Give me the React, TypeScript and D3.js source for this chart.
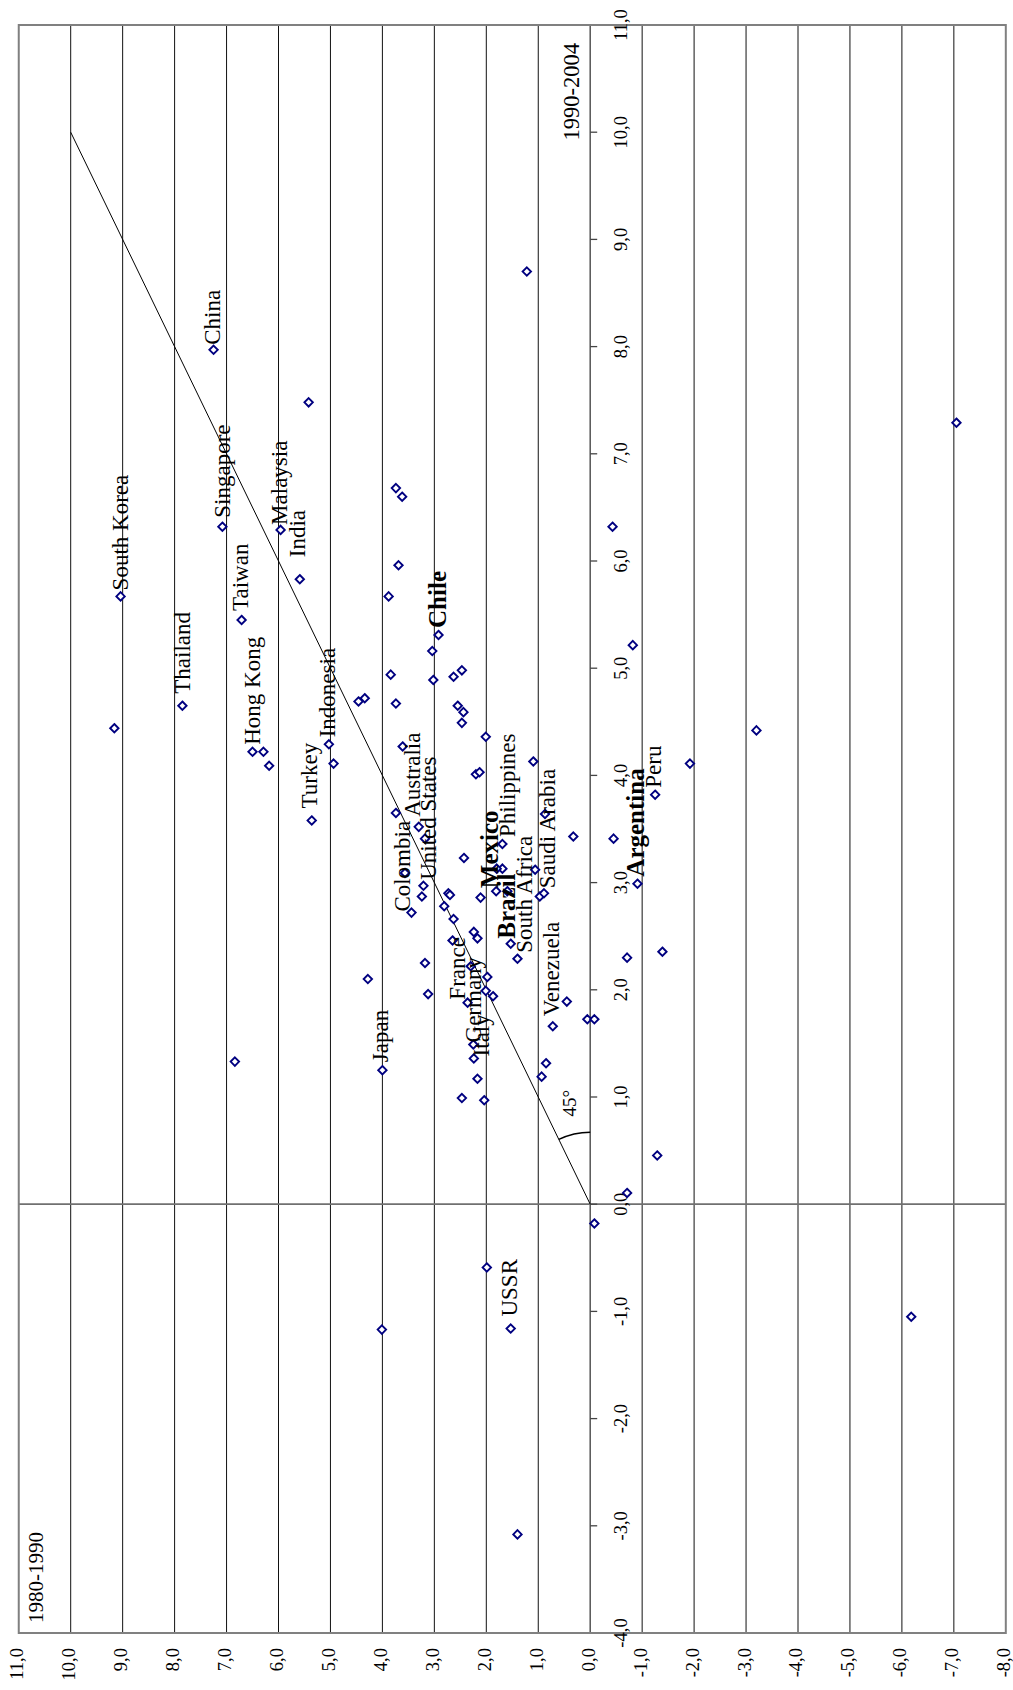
import React from "react";
import * as d3 from "d3";

const W = 1013;
const H = 1690;

// Labelled countries: growth 1980-1990 and 1990-2004 (%)
const labelNames = [
  "China", "Singapore", "Malaysia", "India", "Taiwan", "South Korea", "Thailand",
  "Hong Kong", "Indonesia", "Turkey", "Chile", "Australia", "United States", "Colombia",
  "Philippines", "Mexico", "Brazil", "South Africa", "Saudi Arabia", "Venezuela",
  "France", "Germany", "Italy", "Japan", "Argentina", "Peru", "USSR",
];
const label1980 = [
  7.25, 7.08, 5.96, 5.59, 6.71, 9.04, 7.85,
  6.5, 5.03, 5.36, 2.92, 3.3, 3.21, 3.44,
  1.69, 1.81, 1.53, 1.4, 0.89, 0.72,
  2.36, 2.25, 2.24, 4.0, -0.91, -1.25, 1.53,
];
const label1990 = [
  7.97, 6.32, 6.29, 5.83, 5.45, 5.67, 4.65,
  4.22, 4.29, 3.58, 5.31, 3.52, 2.97, 2.72,
  3.36, 2.92, 2.43, 2.29, 2.9, 1.66,
  1.88, 1.49, 1.36, 1.25, 2.99, 3.82, -1.16,
];
const boldNames = ["Chile", "Mexico", "Brazil", "Argentina"];

// Unlabelled countries
const other1980 = [
  5.42, 3.74, 3.62, 3.69, 3.88, 6.29, 6.18, 4.94, 3.04, 3.84, 3.02, 2.63, 2.47,
  4.46, 4.34, 3.74, 2.55, 2.44, 2.47, 2.01, 3.61, 2.2, 2.13, 3.74, 3.18, 2.43,
  1.095, 0.87, 0.325, 1.69, 1.8, 1.06, 3.565, 3.24, 2.73, 2.7, 2.11, 1.595, 0.97,
  2.81, 2.63, 2.24, 2.17, 2.65, 3.18, 2.3, 1.98, 4.28, 3.12, 2.01, 1.87, 0.45,
  0.055, -0.08, 0.85, 0.935, 2.17, 2.47, 2.04, 6.84, 9.16, 1.22, -0.45, -1.92,
  -3.2, -0.71, -1.39, -1.29, -0.71, -0.08, -0.43, -0.82, -7.05, -6.18, 1.99,
  4.01, 1.4,
];
const other1990 = [
  7.48, 6.68, 6.6, 5.96, 5.67, 4.22, 4.09, 4.11, 5.16, 4.94, 4.89, 4.92, 4.98,
  4.69, 4.72, 4.67, 4.65, 4.59, 4.49, 4.36, 4.27, 4.01, 4.03, 3.65, 3.41, 3.23,
  4.13, 3.64, 3.43, 3.13, 3.13, 3.12, 3.09, 2.87, 2.9, 2.885, 2.86, 2.92, 2.87,
  2.78, 2.66, 2.54, 2.48, 2.46, 2.25, 2.22, 2.12, 2.1, 1.96, 1.99, 1.94, 1.89,
  1.725, 1.725, 1.315, 1.19, 1.17, 0.99, 0.97, 1.33, 4.44, 8.7, 3.41, 4.11,
  4.42, 2.3, 2.355, 0.455, 0.105, -0.18, 6.32, 5.215, 7.29, -1.05, -0.59,
  -1.17, -3.08,
];

const ticks1980 = [11, 10, 9, 8, 7, 6, 5, 4, 3, 2, 1, 0, -1, -2, -3, -4, -5, -6, -7, -8];
const ticks1990 = [11, 10, 9, 8, 7, 6, 5, 4, 3, 2, 1, 0, -1, -2, -3, -4];
const title1980 = "1980-1990";
const title1990 = "1990-2004";
const angleText = "45°";

// label layout (pixel nudges; dx = shift across, gap = distance above the marker)
const labelLayout: Record<string, { dx: number; gap: number }> = {
  China: { dx: -1, gap: 5 },
  Singapore: { dx: 0, gap: 9 },
  Malaysia: { dx: -1, gap: 5 },
  India: { dx: -2, gap: 22 },
  Taiwan: { dx: -1, gap: 9 },
  "South Korea": { dx: 0, gap: 6 },
  Thailand: { dx: 0, gap: 12 },
  "Hong Kong": { dx: 0, gap: 7 },
  Indonesia: { dx: -1, gap: 7 },
  Turkey: { dx: -2, gap: 12 },
  Chile: { dx: -1, gap: 7 },
  Australia: { dx: -6, gap: 10 },
  "United States": { dx: 5, gap: 6 },
  Colombia: { dx: -9, gap: 1 },
  Philippines: { dx: 5, gap: 7 },
  Mexico: { dx: -6, gap: 3 },
  Brazil: { dx: -4, gap: 5 },
  "South Africa": { dx: 7, gap: 6 },
  "Saudi Arabia": { dx: 3, gap: 5 },
  Venezuela: { dx: -1, gap: 10 },
  France: { dx: -10, gap: 3 },
  Germany: { dx: 0, gap: 2 },
  Italy: { dx: 8, gap: 2 },
  Japan: { dx: -2, gap: 8 },
  Argentina: { dx: -2, gap: 7 },
  Peru: { dx: -2, gap: 7 },
  USSR: { dx: -1, gap: 12 },
};

const FONT = "'Liberation Serif', 'Times New Roman', serif";
const fmt = (v: number) => v.toFixed(1).replace(".", ",");

export default function App() {
  const left = 18.75, right = 1005.8, top = 25, bottom = 1633;
  const x = d3.scaleLinear().domain([11, -8]).range([left, right]);
  const y = d3.scaleLinear().domain([11, -4]).range([top, bottom]);

  const x0 = x(0), y0 = y(0);
  const diamond = (cx: number, cy: number, r = 4.2) =>
    `M${cx},${cy - r}L${cx + r},${cy}L${cx},${cy + r}L${cx - r},${cy}Z`;

  // 45° arc
  const r = 72;
  const vx = x(10) - x0, vy = y(10) - y0;
  const vl = Math.hypot(vx, vy);
  const ex = x0 + (vx / vl) * r, ey = y0 + (vy / vl) * r;
  const arcPath = `M${x0},${y0 - r}A${r},${r} 0 0 0 ${ex},${ey}`;

  const diagonal = d3.line<[number, number]>().x((d) => x(d[0])).y((d) => y(d[1]))([
    [0, 0],
    [10, 10],
  ]);

  const gridVals = ticks1980.filter((v) => v !== 11 && v !== -8 && v !== 0);

  return (
    <svg width={W} height={H} style={{ display: "block", position: "absolute", left: 0, top: 0 }} fontFamily={FONT}>
      <rect x={0} y={0} width={W} height={H} fill="#fff" />
      {gridVals.map((v) => (
        <line key={"g" + v} x1={x(v)} x2={x(v)} y1={top} y2={bottom} stroke="#111" strokeWidth={1} />
      ))}
      {/* zero axes */}
      <line x1={x0} x2={x0} y1={top} y2={bottom} stroke="#555" strokeWidth={1.5} />
      <line x1={left} x2={right} y1={y0} y2={y0} stroke="#707070" strokeWidth={1.8} />
      {ticks1990.map((v) => (
        <line key={"t" + v} x1={x0} x2={x0 + 7} y1={y(v)} y2={y(v)} stroke="#444" strokeWidth={1.3} />
      ))}
      {/* frame */}
      <rect x={left} y={top} width={right - left} height={bottom - top} fill="none" stroke="#808080" strokeWidth={2} />

      {/* 45 degree line */}
      <path d={diagonal || ""} stroke="#000" strokeWidth={1} fill="none" />
      <path d={arcPath} stroke="#000" strokeWidth={1.5} fill="none" />
      <text transform={`translate(${x0 - 20},${y0 - 101}) rotate(-90)`} fontSize={19} textAnchor="middle" dy="0.33em">
        {angleText}
      </text>

      {/* axis labels: 1990-2004 */}
      {ticks1990.map((v) => (
        <text key={"l9" + v} transform={`translate(${x0 + 37},${y(v)}) rotate(-90)`} fontSize={18.5} textAnchor="middle">
          {fmt(v)}
        </text>
      ))}
      {/* axis labels: 1980-1990 */}
      {ticks1980.map((v) => (
        <text key={"l8" + v} transform={`translate(${x(v)},${bottom + 15}) rotate(-90)`} fontSize={18.5} textAnchor="end" dy="0.24em">
          {fmt(v)}
        </text>
      ))}
      <text transform={`translate(${left + 17},${bottom - 10}) rotate(-90)`} fontSize={21} textAnchor="start" dy="0.33em">
        {title1980}
      </text>
      <text transform={`translate(${x0 - 19},${top + 18}) rotate(-90)`} fontSize={22.5} textAnchor="end" dy="0.33em">
        {title1990}
      </text>

      {/* points */}
      {other1980.map((v, i) => (
        <path key={"o" + i} d={diamond(x(v), y(other1990[i]))} fill="#fff" stroke="#000080" strokeWidth={1.9} />
      ))}
      {label1980.map((v, i) => (
        <path key={"p" + i} d={diamond(x(v), y(label1990[i]))} fill="#fff" stroke="#000080" strokeWidth={1.9} />
      ))}
      {labelNames.map((name, i) => {
        const lay = labelLayout[name] || { dx: 0, gap: 8 };
        const bold = boldNames.includes(name);
        const px = x(label1980[i]) + lay.dx;
        const py = y(label1990[i]) - lay.gap;
        return (
          <text
            key={"n" + name}
            transform={`translate(${px},${py}) rotate(-90)`}
            fontSize={bold ? 25 : 23}
            fontWeight={bold ? "bold" : "normal"}
            textAnchor="start"
            dy="0.33em"
          >
            {name}
          </text>
        );
      })}
    </svg>
  );
}
